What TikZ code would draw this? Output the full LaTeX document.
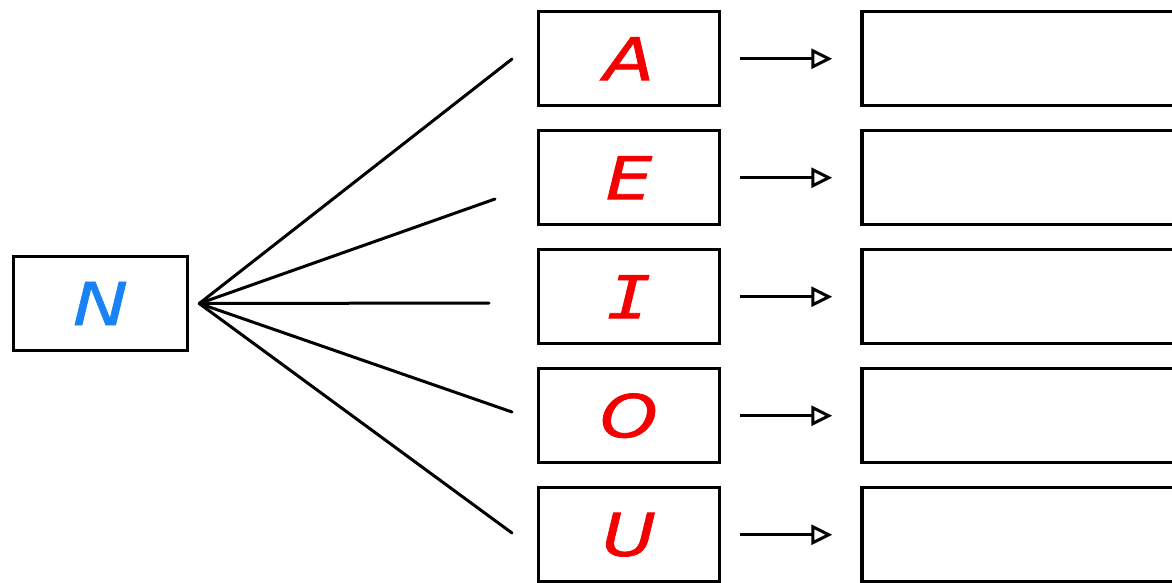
\documentclass[tikz,border=0pt]{standalone}
\usepackage{fontspec}
\usepackage{xcolor}
\usepackage{tikz}
\usetikzlibrary{arrows.meta, positioning}

\newfontfamily\letterfont[FakeStretch=1.25, FakeBold=1.2]{DejaVu Sans}
\newfontfamily\letterfontmono[FakeStretch=1.25, FakeBold=1.2]{DejaVu Sans Mono}
\definecolor{nblue}{RGB}{25,130,245}
\definecolor{vred}{RGB}{245,0,0}

\begin{document}
\begin{tikzpicture}[
    x=1pt, y=-1pt,
    node distance=21.5pt,
    letter/.style={rectangle, draw, line width=3.5pt, minimum width=181pt, minimum height=94pt, inner sep=0pt, text=vred, font=\fontsize{59}{60}\selectfont\letterfont\itshape},
    answer/.style={rectangle, draw, line width=3.5pt, minimum width=330pt, minimum height=94pt},
    fan/.style={line width=3pt, line cap=round},
    arrow/.style={-{Triangle[open, length=21pt, width=20pt, line width=3pt]}, line width=2.8pt, shorten <=19pt, shorten >=28pt}
]
\useasboundingbox (0,0) rectangle (1172,582);
\clip (0,0) rectangle (1172,582);

% Start
\node[letter, minimum width=174pt, text=nblue] (n) at (100.5,303.5) {N};
\coordinate[right=10pt of n.east] (hub);

% Vowels
\node[letter] (a) at (629,58.7) {A};
\node[letter, below=of a] (e) {E};
\node[letter, below=of e] (i) {\letterfontmono\itshape I};
\node[letter, below=of i] (o) {O};
\node[letter, below=of o] (u) {U};

% Empty answers
\node[answer, right=139pt of a] (ra) {};
\node[answer, right=139pt of e] (re) {};
\node[answer, right=139pt of i] (ri) {};
\node[answer, right=139pt of o] (ro) {};
\node[answer, right=139pt of u] (ru) {};

% Loose ends of the fan
\coordinate (ea) at (512,59);
\coordinate (ee) at (495,199);
\coordinate (ei) at (489,303);
\coordinate (eo) at (512,412);
\coordinate (eu) at (512,533);

% Fan
\foreach \v in {a,e,i,o,u}
    \draw[fan] (hub) -- (e\v);

% Arrows
\foreach \v in {a,e,i,o,u}
    \draw[arrow] (\v) -- (r\v);

\end{tikzpicture}
\end{document}
